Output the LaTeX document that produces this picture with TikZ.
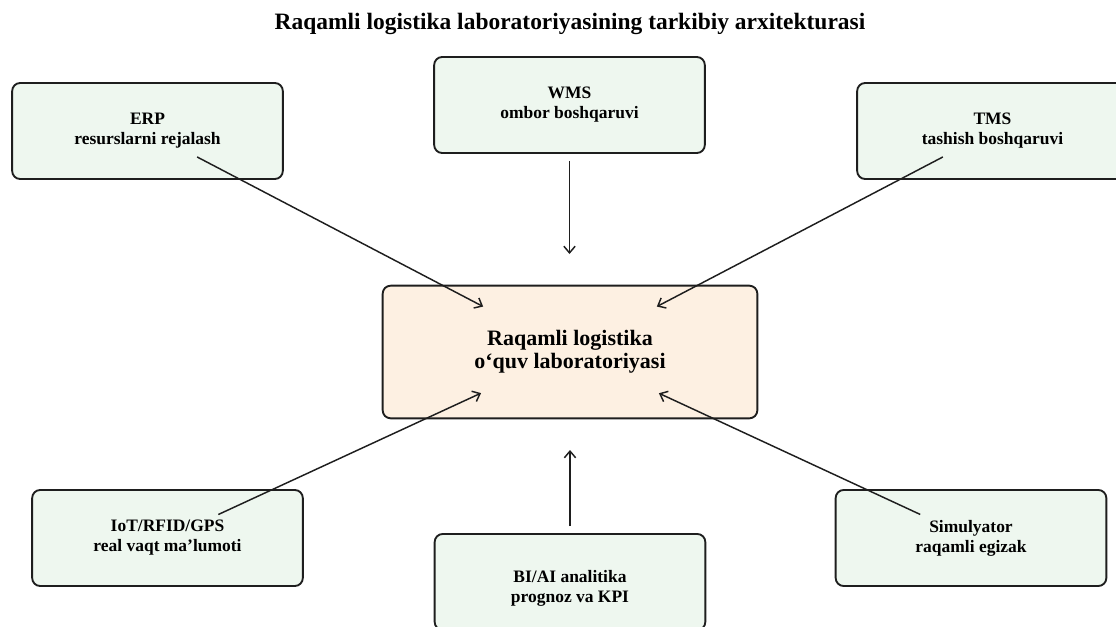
\documentclass[tikz,border=0pt]{standalone}
\usepackage{fontspec}
\setmainfont{Liberation Serif}
\usetikzlibrary{arrows.meta}
\definecolor{boxgreen}{HTML}{EEF7EF}
\definecolor{boxpeach}{HTML}{FDF0E2}
\definecolor{edge}{HTML}{1E1E1E}
\tikzset{
  x=0.75pt, y=-0.75pt,
  modbox/.style={draw=edge, line width=1.4pt, rounded corners=6pt, fill=boxgreen,
    minimum width=203pt, minimum height=72pt, align=center, inner sep=2pt,
    font=\fontsize{13.1}{15}\selectfont\bfseries},
  hubbox/.style={draw=edge, line width=1.4pt, rounded corners=6pt, fill=boxpeach,
    minimum width=281pt, minimum height=99.5pt, align=center, inner sep=2pt,
    font=\fontsize{16.5}{17.3}\selectfont\bfseries},
  titletext/.style={font=\fontsize{17.6}{19}\selectfont\bfseries, anchor=base},
  link/.style={draw=edge, line width=1.1pt, -{Straight Barb[length=5pt,width=8.5pt]},
    shorten <=42pt, shorten >=73.5pt}
}
\begin{document}
\begin{tikzpicture}
\useasboundingbox (0,0) rectangle (1116,627);
\node[titletext] (title) at (570,30) {Raqamli logistika laboratoriyasining tarkibiy arxitekturasi};

\node[hubbox] (hub) at (570,352) {Raqamli logistika\\o‘quv laboratoriyasi};

\node[modbox] (erp) at (147.5,131) {ERP\\resurslarni rejalash};
\node[modbox] (wms) at (569.5,105) {WMS\\ombor boshqaruvi};
\node[modbox] (tms) at (992.5,131) {TMS\\tashish boshqaruvi};
\node[modbox] (iot) at (167.5,538) {IoT/RFID/GPS\\real vaqt ma’lumoti};
\node[modbox] (bi) at (570,582) {\rule{0pt}{19pt}BI/AI analitika\\prognoz va KPI};
\node[modbox] (sim) at (971,538) {Simulyator\\raqamli egizak};

\draw[link] (erp.center) -- (hub.center);
\draw[link] (wms.center) -- (wms.center |- hub.center);
\draw[link] (tms.center) -- (hub.center);
\draw[link] (iot.center) -- (hub.center);
\draw[link] (bi.center) -- (hub.center);
\draw[link] (sim.center) -- (hub.center);
\end{tikzpicture}
\end{document}
